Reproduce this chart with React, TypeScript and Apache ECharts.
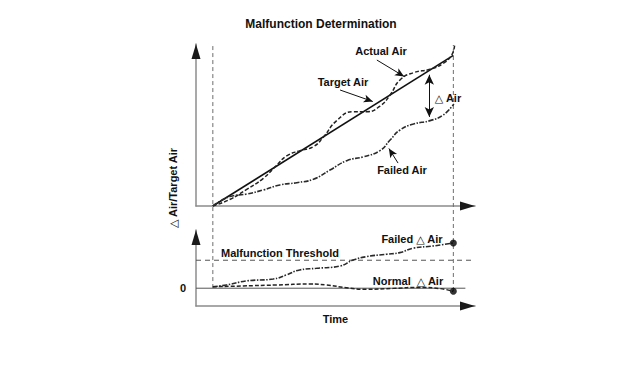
import { useEffect, useRef } from "react";
import * as echarts from "echarts";

// ---- data (time 0..100, air in arbitrary units) ----
const timeMin = -7;
const timeMax = 109;
const airMax = 100;
const deltaMin = -11;
const deltaMax = 36;

const targetAir = [[0, 0], [100, 93]];
const actualAir = [
  [0, 0], [7, 4], [14.1, 10.3], [21, 17.1], [26.6, 25.3], [30.7, 30.9], [36.3, 34.2],
  [41.8, 36.6], [45.9, 42.4], [51.5, 52.7], [58.4, 58.2], [64, 58.2], [69.5, 61.7],
  [73.7, 68.5], [77.8, 77.8], [83.4, 82.3], [90.3, 84.4], [95.8, 88.1], [99.3, 93.2], [100.5, 99],
];
const failedAir = [
  [0, 0], [7.1, 5.8], [14.1, 7.4], [21, 9.9], [27.9, 13], [34.9, 14.4], [41.8, 16.5],
  [48.7, 22.2], [55.7, 28], [62.6, 30.4], [69.5, 34.2], [73.7, 40.7], [77.8, 46.9],
  [83.4, 50.6], [90.3, 52.7], [95.8, 56.2], [100.2, 63],
];
const failedDelta = [
  [0, 0.9], [5.7, 2], [14, 4.5], [25.1, 5.7], [30.6, 8.2], [36.1, 11.3], [43.1, 12.3],
  [52.8, 13.7], [58.3, 17.4], [63.8, 19.5], [72.2, 21], [77.7, 22], [83.2, 24.7],
  [91.5, 26.1], [100, 28],
];
const normalDelta = [
  [0, 0.9], [12.6, 1.4], [26.4, 2], [40.3, 2.6], [47.2, 2], [55.5, 0.3], [63.8, -0.7],
  [74.9, -0.1], [86, 0.5], [94.3, -0.2], [100, -1.9],
];
const endPoints = [[100, 28], [100, -1.9]];
const threshold = 17.3;
const zeroLine = [[-7, 0], [105, 0]];
const thresholdLine = [[-7, threshold], [108, threshold]];
const startMarker = [[0, 0.012], [0, 1]];
const endMarker = [[100, 0], [100, 1]];
const actualLeader = [[68.2, 90.1], [79.5, 80]];
const targetLeader = [[52.9, 71.6], [66.5, 64.5]];
const failedLeader = [[77, 26.5], [73.2, 35.5]];
const deltaArrow = [[90, 55], [90, 81]];

const FONT = '"Liberation Sans", Arial, "DejaVu Sans", sans-serif';
const AXIS_GRAY = "#8c8c8c";

function grayAxis(gridIndex: number, min: number, max: number, position: string, extra: any = {}) {
  return {
    type: "value",
    gridIndex,
    min,
    max,
    position,
    offset: 0,
    axisLine: { show: true, onZero: false, lineStyle: { color: AXIS_GRAY, width: 1.5 } },
    axisTick: { show: false },
    axisLabel: { show: false },
    splitLine: { show: false },
    ...extra,
  };
}
function arrowAxis(gridIndex: number, min: number, max: number, position: string) {
  return {
    type: "value",
    gridIndex,
    min,
    max,
    position,
    offset: 0,
    axisLine: {
      show: true,
      onZero: false,
      symbol: ["none", "triangle"],
      symbolSize: [9, 15],
      symbolOffset: [0, -7.5],
      lineStyle: { color: "#1a1a1a", width: 0 },
    },
    axisTick: { show: false },
    axisLabel: { show: false },
    splitLine: { show: false },
  };
}

export default function App() {
  const ref = useRef<HTMLDivElement>(null);
  useEffect(() => {
    document.body.style.margin = "0";
    const chart = echarts.init(ref.current!, null, { renderer: "svg" });
    const labelText = (text: string, x: number, y: number, align = "center") => ({
      type: "text",
      x,
      y,
      style: {
        text,
        fontFamily: FONT,
        fontSize: 11,
        fontWeight: "bold",
        fill: "#111",
        align,
        verticalAlign: "middle",
      },
    });
    const leaderStyle = { color: "#111", width: 1, type: "solid" };
    const failedStyle = { color: "#2a2a2a", width: 1.6, type: [5, 1.5, 1.5, 1.5] };
    const dashedStyle = { color: "#222", width: 1.5, type: [4, 2] };
    chart.setOption({
      animation: false,
      backgroundColor: "#fff",
      title: {
        text: "Malfunction Determination",
        left: "center",
        top: 13,
        textStyle: { fontFamily: FONT, fontSize: 12, fontWeight: "bold", color: "#111" },
      },
      grid: [
        { left: 196, top: 44, width: 279, height: 162 },
        { left: 196, top: 230, width: 279, height: 76 },
        { left: 196, top: 45, width: 279, height: 246 },
      ],
      xAxis: [
        grayAxis(0, timeMin, timeMax, "bottom"),
        arrowAxis(0, timeMin, timeMax, "bottom"),
        grayAxis(1, timeMin, timeMax, "bottom", {
          name: "Time",
          nameLocation: "middle",
          nameGap: 7,
          nameTextStyle: {
            fontFamily: FONT,
            fontSize: 11,
            fontWeight: "bold",
            color: "#111",
            verticalAlign: "top",
          },
        }),
        arrowAxis(1, timeMin, timeMax, "bottom"),
        { type: "value", gridIndex: 2, min: timeMin, max: timeMax, show: false },
      ],
      yAxis: [
        grayAxis(0, 0, airMax, "left"),
        arrowAxis(0, 0, airMax, "left"),
        grayAxis(1, deltaMin, deltaMax, "left", {
          axisLabel: {
            show: true,
            customValues: [0],
            margin: 10,
            fontFamily: FONT,
            fontSize: 11,
            fontWeight: "bold",
            color: "#111",
          },
        }),
        arrowAxis(1, deltaMin, deltaMax, "left"),
        { type: "value", gridIndex: 2, min: 0, max: 1, show: false },
      ],
      series: [
        // start / end time markers
        {
          type: "line", xAxisIndex: 4, yAxisIndex: 4, data: startMarker, symbol: "none",
          lineStyle: { color: "#6e6e6e", width: 1, type: [4, 3] }, z: 1,
        },
        {
          type: "line", xAxisIndex: 4, yAxisIndex: 4, data: endMarker, symbol: "none",
          lineStyle: { color: "#6e6e6e", width: 1, type: [4, 3] }, z: 1,
        },
        // top chart
        {
          name: "Target Air", type: "line", xAxisIndex: 0, yAxisIndex: 0, data: targetAir,
          symbol: "none", lineStyle: { color: "#111", width: 1.6 },
          markLine: {
            silent: true,
            symbol: ["none", "arrow"],
            symbolSize: [6, 9],
            label: { show: false },
            lineStyle: leaderStyle,
            data: [
              [{ coord: actualLeader[0] }, { coord: actualLeader[1] }],
              [{ coord: targetLeader[0] }, { coord: targetLeader[1] }],
              [{ coord: failedLeader[0] }, { coord: failedLeader[1] }],
            ],
          },
        },
        {
          name: "Actual Air", type: "line", xAxisIndex: 0, yAxisIndex: 0, data: actualAir,
          symbol: "none", smooth: 0.5, lineStyle: dashedStyle,
        },
        {
          name: "Failed Air", type: "line", xAxisIndex: 0, yAxisIndex: 0, data: failedAir,
          symbol: "none", smooth: 0.5, lineStyle: failedStyle,
          markLine: {
            silent: true,
            symbol: ["arrow", "arrow"],
            symbolSize: [7, 10],
            label: { show: false },
            lineStyle: leaderStyle,
            data: [[{ coord: deltaArrow[0] }, { coord: deltaArrow[1] }]],
          },
        },
        // bottom chart
        {
          type: "line", xAxisIndex: 2, yAxisIndex: 2, data: zeroLine, symbol: "none",
          lineStyle: { color: "#555", width: 1 },
        },
        {
          type: "line", xAxisIndex: 2, yAxisIndex: 2, data: thresholdLine, symbol: "none",
          lineStyle: { color: "#555", width: 1, type: [5, 4] },
        },
        {
          name: "Failed Delta Air", type: "line", xAxisIndex: 2, yAxisIndex: 2, data: failedDelta,
          symbol: "none", smooth: 0.5, lineStyle: failedStyle,
        },
        {
          name: "Normal Delta Air", type: "line", xAxisIndex: 2, yAxisIndex: 2, data: normalDelta,
          symbol: "none", smooth: 0.5, lineStyle: dashedStyle,
        },
        {
          type: "scatter", xAxisIndex: 2, yAxisIndex: 2, data: endPoints, symbolSize: 7,
          itemStyle: { color: "#000" }, z: 5,
        },
      ],
      graphic: [
        labelText("Actual Air", 381, 51),
        labelText("Target Air", 343, 82),
        labelText("△ Air", 448, 98),
        labelText("Failed Air", 402, 170),
        labelText("Failed △ Air", 412, 239),
        labelText("Malfunction Threshold", 221, 252.5, "left"),
        labelText("Normal  △ Air", 408, 281),
        {
          type: "text",
          x: 172.5,
          y: 188,
          rotation: Math.PI / 2,
          style: {
            text: "△ Air/Target Air",
            fontFamily: FONT,
            fontSize: 11,
            fontWeight: "bold",
            fill: "#111",
            align: "center",
            verticalAlign: "middle",
          },
        },
      ],
    });
    return () => chart.dispose();
  }, []);
  return <div ref={ref} style={{ width: 642, height: 368 }} />;
}
